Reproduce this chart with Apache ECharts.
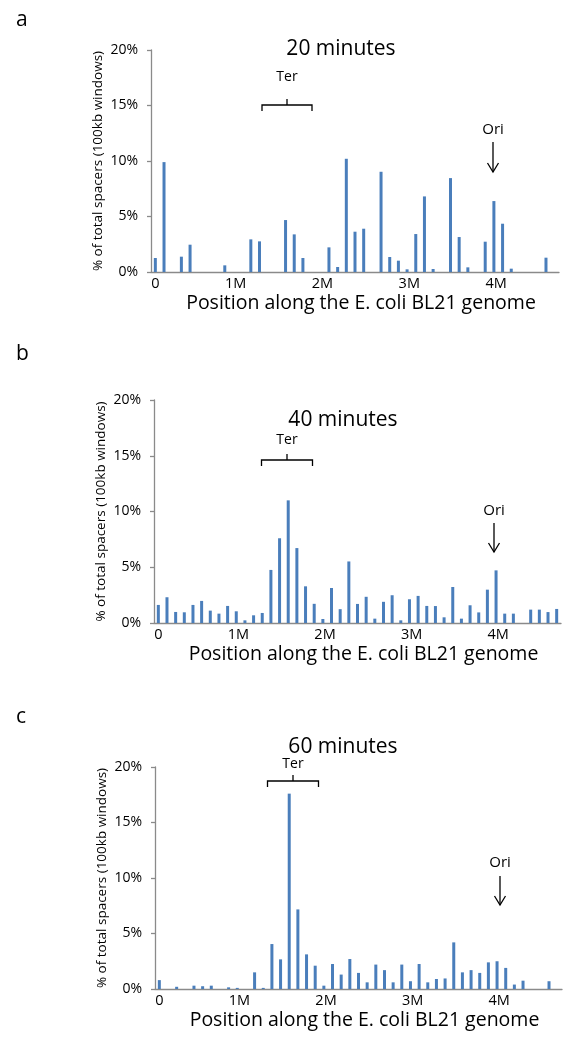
<!DOCTYPE html>
<html>
<head>
<meta charset="utf-8">
<script src="https://cdn.jsdelivr.net/npm/echarts@6/dist/echarts.min.js"></script>
<style>
html,body{margin:0;padding:0;background:#fff;}
#chart{width:586px;height:1049px;}
</style>
</head>
<body>
<div id="chart"></div>
<script>
// 100 kb windows along the genome (Mb)
const categories = ['0','0.1','0.2','0.3','0.4','0.5','0.6','0.7','0.8','0.9',
  '1.0','1.1','1.2','1.3','1.4','1.5','1.6','1.7','1.8','1.9',
  '2.0','2.1','2.2','2.3','2.4','2.5','2.6','2.7','2.8','2.9',
  '3.0','3.1','3.2','3.3','3.4','3.5','3.6','3.7','3.8','3.9',
  '4.0','4.1','4.2','4.3','4.4','4.5','4.6'];
const xTickLabels = ['0','1M','2M','3M','4M'];
const yTickValues = [0,5,10,15,20];
const panelLetters = ['a','b','c'];
const panelTitles = ['20 minutes','40 minutes','60 minutes'];

const values20 = [1.26,9.9,0,1.38,2.46,0,0,0,0.6,0,
  0,2.94,2.76,0,0,4.68,3.39,1.26,0,0,
  2.22,0.45,10.2,3.63,3.9,0,9.03,1.35,1.02,0.24,
  3.42,6.81,0.27,0,8.46,3.15,0.42,0,2.73,6.39,
  4.35,0.3,0,0,0,1.29,0];
const values40 = [1.62,2.31,0.99,0.96,1.62,1.98,1.11,0.84,1.53,1.05,
  0.24,0.69,0.9,4.76,7.6,11.0,6.72,3.29,1.72,0.36,
  3.14,1.24,5.52,1.71,2.35,0.39,1.9,2.49,0.24,2.13,
  2.43,1.53,1.52,0.51,3.23,0.39,1.59,0.95,2.99,4.72,
  0.84,0.84,0,1.2,1.2,0.98,1.26];
const values60 = [0.8,0,0.2,0,0.3,0.25,0.3,0,0.15,0.1,
  0,1.5,0.1,4.05,2.67,17.6,7.17,3.12,2.1,0.3,
  2.25,1.3,2.7,1.45,0.6,2.2,1.7,0.6,2.2,0.7,
  2.25,0.6,0.9,0.95,4.2,1.5,1.7,1.45,2.4,2.5,
  1.9,0.4,0.75,0,0,0.7,0];
const allValues = [values20, values40, values60];

const FONT = '"Open Sans", "Liberation Sans", sans-serif';
const AXIS_COLOR = '#8a8a8a';
const BAR_COLOR = '#4a7ebb';
const TXT = '#000';

// layout per panel
const grids = [
  {left:151, top:50,  width:408, height:222},
  {left:154, top:400, width:407, height:223},
  {left:155, top:767, width:407, height:222}
];
const titlePos = [{x:336,y:34},{x:338,y:405},{x:338,y:732}];
const letterPos = [{x:11,y:5},{x:11,y:339},{x:11,y:702}];
const terPos = [{x:287,y:105,txt:77,half:25},{x:287,y:460,txt:440,half:25.5},{x:293,y:781,txt:764,half:25.5}];
const oriPos = [{x:493,txt:130,y1:142,y2:172},{x:494,txt:511,y1:523,y2:552},{x:500,txt:863,y1:876,y2:905}];

const tickIdx = [0,10,20,30,40];

const option = {
  animation:false,
  backgroundColor:'#fff',
  textStyle:{fontFamily:FONT},
  title:[],
  grid:[],
  xAxis:[],
  yAxis:[],
  series:[],
  graphic:[]
};

for (let p = 0; p < 3; p++) {
  option.grid.push(Object.assign({containLabel:false}, grids[p]));
  option.title.push({
    text: panelTitles[p], left: titlePos[p].x, top: titlePos[p].y, textAlign:'center',
    textStyle:{fontFamily:FONT, fontSize:21, fontWeight:'normal', color:TXT}
  });
  option.title.push({
    text: panelLetters[p], left: letterPos[p].x, top: letterPos[p].y,
    textStyle:{fontFamily:FONT, fontSize:21, fontWeight:'normal', color:TXT}
  });
  option.xAxis.push({
    type:'category', gridIndex:p, data:categories, boundaryGap:true,
    axisLine:{lineStyle:{color:AXIS_COLOR, width:1.3}},
    axisTick:{interval:(i)=> i % 5 === 0, length:5, lineStyle:{color:AXIS_COLOR, width:1.3}},
    axisLabel:{
      interval:(i)=> tickIdx.indexOf(i) >= 0,
      margin:4, color:TXT, fontFamily:FONT, fontSize:14.5,
      formatter:(v, i)=>{
        const k = tickIdx.indexOf(i);
        if (k < 0) return '';
        return k === 0 ? xTickLabels[k] : '{m|' + xTickLabels[k] + '}';
      },
      rich:{m:{fontFamily:FONT, fontSize:14.5, color:TXT, padding:[0,13,0,0]}}
    },
    name:'Position along the E. coli BL21 genome', nameLocation:'middle', nameGap:21,
    nameMoveOverlap:false,
    nameTextStyle:{fontFamily:FONT, fontSize:19.5, color:TXT, padding:[0,0,0,12]},
    splitLine:{show:false}
  });
  option.yAxis.push({
    type:'value', gridIndex:p, min:yTickValues[0], max:yTickValues[yTickValues.length-1], interval:5,
    axisLine:{show:true, lineStyle:{color:AXIS_COLOR, width:1.3}},
    axisTick:{show:true, length:4, lineStyle:{color:AXIS_COLOR, width:1.3}},
    axisLabel:{formatter:'{value}%', margin:13, color:TXT, fontFamily:FONT, fontSize:14},
    splitLine:{show:false},
    name:'% of total spacers (100kb windows)', nameLocation:'middle', nameGap:46,
    nameMoveOverlap:false,
    nameTextStyle:{fontFamily:FONT, fontSize:13.5, color:TXT}
  });
  option.series.push({
    type:'bar', xAxisIndex:p, yAxisIndex:p, data:allValues[p],
    barWidth:3, itemStyle:{color:BAR_COLOR}, silent:true
  });

  // Ter bracket
  const t = terPos[p];
  option.graphic.push({
    type:'text', x:t.x, y:t.txt,
    style:{text:'Ter', fontFamily:FONT, fontSize:14, fill:TXT, align:'center', verticalAlign:'middle'}
  });
  option.graphic.push({
    type:'polyline',
    shape:{points:[[t.x - t.half, t.y + 6],[t.x - t.half, t.y],[t.x + t.half, t.y],[t.x + t.half, t.y + 6]]},
    style:{stroke:TXT, lineWidth:1.3, fill:null}
  });
  option.graphic.push({
    type:'line', shape:{x1:t.x, y1:t.y, x2:t.x, y2:t.y - 6},
    style:{stroke:TXT, lineWidth:1.3}
  });

  // Ori arrow
  const o = oriPos[p];
  option.graphic.push({
    type:'text', x:o.x, y:o.txt,
    style:{text:'Ori', fontFamily:FONT, fontSize:15, fill:TXT, align:'center', verticalAlign:'middle'}
  });
  option.graphic.push({
    type:'line', shape:{x1:o.x, y1:o.y1, x2:o.x, y2:o.y2},
    style:{stroke:TXT, lineWidth:1.3}
  });
  option.graphic.push({
    type:'polyline', shape:{points:[[o.x - 5.5, o.y2 - 9],[o.x, o.y2],[o.x + 5.5, o.y2 - 9]]},
    style:{stroke:TXT, lineWidth:1.3, fill:null}
  });
}

const chart = echarts.init(document.getElementById('chart'), null, {renderer:'canvas'});
chart.setOption(option);
</script>
</body>
</html>
